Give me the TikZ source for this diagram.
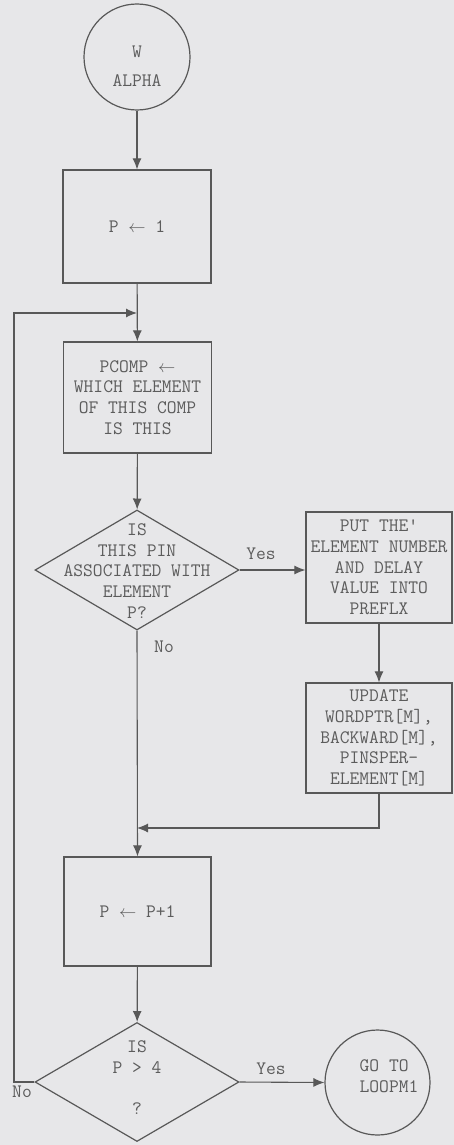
\documentclass[tikz,border=0pt]{standalone}
\usepackage{fontspec}
\usetikzlibrary{shapes.geometric,arrows.meta}
\definecolor{bg}{RGB}{231,231,233}
\definecolor{ln}{RGB}{88,88,88}
\definecolor{tx}{RGB}{92,92,92}
\begin{document}
\begin{tikzpicture}[x=1pt,y=-1pt,
  every node/.style={font=\ttfamily\fontsize{19}{20.7}\selectfont,text=tx},
  box/.style={draw=ln,line width=1.2pt,rectangle,inner sep=0pt,align=center},
  circ/.style={draw=ln,line width=1.2pt,circle,inner sep=0pt},
  dia/.style={draw=ln,line width=1.2pt,diamond,inner sep=0pt},
  txt/.style={inner sep=0pt,align=center},
  lbl/.style={inner sep=0pt},
  arr/.style={draw=ln,line width=1.1pt,-{Latex[length=11pt,width=9pt]}},
  conn/.style={draw=ln,line width=1.1pt}
]
\fill[bg] (0,0) rectangle (454,1145);
\useasboundingbox (0,0) rectangle (454,1145);

\node[circ,minimum size=106pt] (w) at (137,57) {};
\node[txt] (wt) at (137,66.5) {W\\[8.3pt]ALPHA};

\node[box,minimum width=148pt,minimum height=113pt] (p1) at (137,226.5) {P $\leftarrow$ 1};

\node[box,minimum width=148pt,minimum height=111pt] (pc) at (137.5,397.5)
  {PCOMP $\leftarrow$\\WHICH ELEMENT\\OF THIS COMP\\IS THIS};

\node[dia,minimum width=204pt,minimum height=120pt] (d1) at (137,570) {};
\node[txt] (d1t) at (137,571) {IS\\THIS PIN\\ASSOCIATED WITH\\ELEMENT\\P?};

\node[box,minimum width=146pt,minimum height=111pt] (put) at (379,567.5)
  {PUT THE\textquotesingle\\ELEMENT NUMBER\\AND DELAY\\VALUE INTO\\PREFLX};

\node[box,minimum width=146pt,minimum height=110pt] (upd) at (379,738)
  {UPDATE\\WORDPTR[M],\\BACKWARD[M],\\PINSPER-\\ELEMENT[M]};

\node[box,minimum width=147pt,minimum height=109pt] (pp) at (137.5,911.5) {P $\leftarrow$ P+1};

\node[dia,minimum width=204pt,minimum height=119pt] (d2) at (137,1082) {};
\node[txt] (d2t) at (137,1077.5) {IS\\P > 4\\\strut\\?};

\node[circ,minimum size=105pt] (go) at (377.5,1082.5) {};
\node[txt,align=left] (gt) at (389,1076) {GO TO\\LOOPM1};

% labels
\node[lbl] (y1) at (261,554) {Yes};
\node[lbl] (n1) at (164,647) {No};
\node[lbl] (y2) at (271,1069) {Yes};
\node[lbl] (n2) at (22,1092) {No};

% coordinates
\coordinate (m) at (137,828);
\coordinate (lp) at (14,1082);
\coordinate (lt) at (137,313);

% connectors
\draw[arr] (w) -- (p1);
\draw[arr] (p1) -- (pc);
\draw[arr] (pc) -- (d1);
\draw[arr] (d1.east) -- (d1.east -| put.west);
\draw[arr] (put.south -| upd.north) -- (upd.north);
\draw[arr] (upd.south) |- (m);
\draw[arr] (d1.south) -- (pp.north);
\draw[arr] (pp) -- (d2);
\draw[arr] (d2.east) -- (go.west);
\draw[arr] (d2.west) -- (lp) |- (lt);
\end{tikzpicture}
\end{document}
